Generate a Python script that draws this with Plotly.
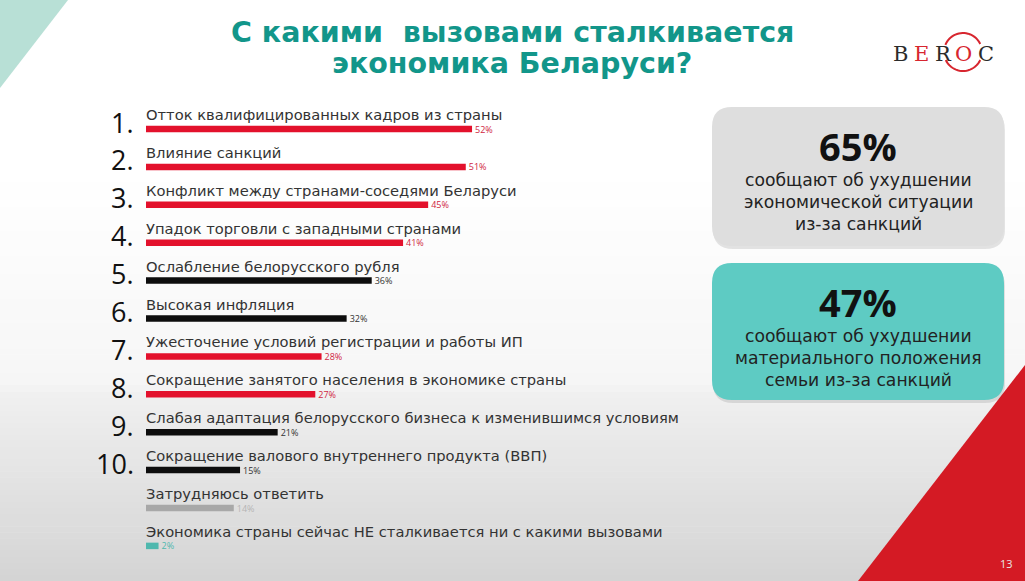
import math
import plotly.graph_objects as go

# ---------------- data ----------------
ranks = ["1.", "2.", "3.", "4.", "5.", "6.", "7.", "8.", "9.", "10.", "", ""]
labels = [
    "Отток квалифицированных кадров из страны",
    "Влияние санкций",
    "Конфликт между странами-соседями Беларуси",
    "Упадок торговли с западными странами",
    "Ослабление белорусского рубля",
    "Высокая инфляция",
    "Ужесточение условий регистрации и работы ИП",
    "Сокращение занятого населения в экономике страны",
    "Слабая адаптация белорусского бизнеса к изменившимся условиям",
    "Сокращение валового внутреннего продукта (ВВП)",
    "Затрудняюсь ответить",
    "Экономика страны сейчас НЕ сталкивается ни с какими вызовами",
]
values = [52, 51, 45, 41, 36, 32, 28, 27, 21, 15, 14, 2]
kinds = ["key", "key", "key", "key", "other", "other", "key", "key",
         "other", "other", "unsure", "none"]

title_lines = ["С какими  вызовами сталкивается", "экономика Беларуси?"]
box_values = ["65%", "47%"]
box_texts = [
    ["сообщают об ухудшении", "экономической ситуации", "из-за санкций"],
    ["сообщают об ухудшении", "материального положения", "семьи из-за санкций"],
]
page_number = "13"

# ---------------- styling ----------------
W, H = 1025, 581
BAR_COLORS = {"key": "#e3112c", "other": "#0d0d0d", "unsure": "#a8a8a8", "none": "#4fb8ae"}
VAL_COLORS = {"key": "#d0263f", "other": "#333333", "unsure": "#b5b5b5", "none": "#4fb8ae"}
FONT = "DejaVu Sans"

X0, PX = 146, 6.27          # bar origin in px, px per percent
ROW0, ROWH = 129, 37.9      # first bar centre, row pitch (px)


def px_x(p):
    return p / W


def px_y(p):
    return 1 - p / H


fig = go.Figure()

fig.add_trace(go.Bar(
    y=list(range(len(values))), x=values, orientation="h",
    width=6.5 / ROWH,
    marker=dict(color=[BAR_COLORS[k] for k in kinds], line=dict(width=0)),
    text=[f"{v}%" for v in values], textposition="outside",
    textfont=dict(size=9, family="Open Sans", color=[VAL_COLORS[k] for k in kinds]),
    constraintext="none", cliponaxis=False, hoverinfo="skip",
))

shapes = []
# background gradient
stops = [(0, 255), (170, 255), (385, 246), (392, 240), (581, 212)]
for (ya, ca), (yb, cb) in zip(stops[:-1], stops[1:]):
    n = max(1, int((yb - ya) / 6))
    for i in range(n):
        y0 = ya + (yb - ya) * i / n
        y1 = ya + (yb - ya) * (i + 1) / n
        c = int(round(ca + (cb - ca) * (i + 0.5) / n))
        shapes.append(dict(type="rect", xref="paper", yref="paper", layer="below",
                           x0=0, x1=1, y0=px_y(y1 + 0.5), y1=px_y(y0),
                           fillcolor=f"rgb({c},{c},{c})", line=dict(width=0)))

# teal corner triangle
shapes.append(dict(type="path", xref="paper", yref="paper", layer="below",
                   path=f"M 0 {px_y(0)} L {px_x(68)} {px_y(0)} L 0 {px_y(88)} Z",
                   fillcolor="#b8e0d6", line=dict(width=0)))
# red corner triangle
shapes.append(dict(type="path", xref="paper", yref="paper", layer="below",
                   path=f"M {px_x(W)} {px_y(365)} L {px_x(W)} {px_y(H)} L {px_x(858)} {px_y(H)} Z",
                   fillcolor="#d41a24", line=dict(width=0)))


def rrect(x0, y0, x1, y1, r):
    X, Y = px_x, px_y
    return (f"M {X(x0 + r)} {Y(y0)} L {X(x1 - r)} {Y(y0)} "
            f"Q {X(x1)} {Y(y0)} {X(x1)} {Y(y0 + r)} L {X(x1)} {Y(y1 - r)} "
            f"Q {X(x1)} {Y(y1)} {X(x1 - r)} {Y(y1)} L {X(x0 + r)} {Y(y1)} "
            f"Q {X(x0)} {Y(y1)} {X(x0)} {Y(y1 - r)} L {X(x0)} {Y(y0 + r)} "
            f"Q {X(x0)} {Y(y0)} {X(x0 + r)} {Y(y0)} Z")


boxes = [(712, 107, 1004, 246, "#dedede"), (712, 263, 1004, 400, "#5ecbc3")]
for (bx0, by0, bx1, by1, col) in boxes:
    shapes.append(dict(type="path", xref="paper", yref="paper", layer="below",
                       path=rrect(bx0 + 1, by0 + 3, bx1 + 1, by1 + 3, 20),
                       fillcolor="rgba(0,0,0,0.10)", line=dict(width=0)))
    shapes.append(dict(type="path", xref="paper", yref="paper", layer="below",
                       path=rrect(bx0, by0, bx1, by1, 20),
                       fillcolor=col, line=dict(width=0)))

# logo ring (two arcs around the "O")
cx, cy, rr = 963, 52, 19


def arc(a0, a1, steps=24):
    pts = []
    for k in range(steps + 1):
        a = math.radians(a0 + (a1 - a0) * k / steps)
        pts.append((px_x(cx + rr * math.cos(a)), px_y(cy - rr * math.sin(a))))
    return "M " + " L ".join(f"{x} {y}" for x, y in pts)


shapes.append(dict(type="path", xref="paper", yref="paper", path=arc(25, 158),
                   line=dict(color="#d7262f", width=2)))
shapes.append(dict(type="path", xref="paper", yref="paper", path=arc(205, 335),
                   line=dict(color="#d7262f", width=2)))

annotations = []
for i, (rk, lab) in enumerate(zip(ranks, labels)):
    annotations.append(dict(x=0, y=i - 14.5 / ROWH, xref="x", yref="y", text=lab,
                            showarrow=False, xanchor="left", yanchor="middle",
                            xshift=-2,
                            font=dict(family=FONT, size=14.7, color="#333333")))
    if rk:
        annotations.append(dict(x=-10 / PX, y=i - 7 / ROWH, xref="x", yref="y", text=rk,
                                showarrow=False, xanchor="right", yanchor="middle",
                                font=dict(family="Open Sans", size=27, color="#111111")))

for t, yy in zip(title_lines, [32, 63]):
    annotations.append(dict(x=px_x(512), y=px_y(yy), xref="paper", yref="paper",
                            text=f"<b>{t}</b>", showarrow=False, xanchor="center",
                            yanchor="middle",
                            font=dict(family=FONT, size=28.5, color="#12968a")))

for (bv, lines, by0) in zip(box_values, box_texts, [107, 263]):
    annotations.append(dict(x=px_x(858), y=px_y(by0 + 39), xref="paper", yref="paper",
                            text=f"<b>{bv}</b>", showarrow=False, xanchor="center",
                            yanchor="middle",
                            font=dict(family="Open Sans", size=38, color="#111111")))
    for j, ln in enumerate(lines):
        annotations.append(dict(x=px_x(858), y=px_y(by0 + 73 + 22 * j), xref="paper",
                                yref="paper", text=ln, showarrow=False,
                                xanchor="center", yanchor="middle",
                                font=dict(family=FONT, size=17.2, color="#222222")))

# logo letters
logo_letters = [("B", 900, "#2b2b2b"), ("E", 921, "#d7262f"), ("R", 943, "#2b2b2b"),
                ("O", 963, "#d7262f"), ("C", 986, "#2b2b2b")]
for ch, lx, lc in logo_letters:
    annotations.append(dict(x=px_x(lx), y=px_y(54), xref="paper", yref="paper",
                            text=ch, showarrow=False, xanchor="center", yanchor="middle",
                            font=dict(family="DejaVu Serif", size=21, color=lc)))

annotations.append(dict(x=px_x(1006), y=px_y(563), xref="paper", yref="paper",
                        text=page_number, showarrow=False, xanchor="center",
                        yanchor="middle", font=dict(family="Open Sans", size=11, color="#e8e8e8")))

fig.update_layout(
    width=W, height=H, margin=dict(l=0, r=0, t=0, b=0),
    paper_bgcolor="white", plot_bgcolor="rgba(0,0,0,0)",
    showlegend=False, shapes=shapes, annotations=annotations,
    xaxis=dict(range=[(0 - X0) / PX, (W - X0) / PX], visible=False, fixedrange=True),
    yaxis=dict(range=[(H - ROW0) / ROWH, (0 - ROW0) / ROWH], visible=False, fixedrange=True),
)

fig.write_html("out.html", config={"displayModeBar": False},
               post_script="document.body.style.margin='0';document.body.style.overflow='hidden';")
